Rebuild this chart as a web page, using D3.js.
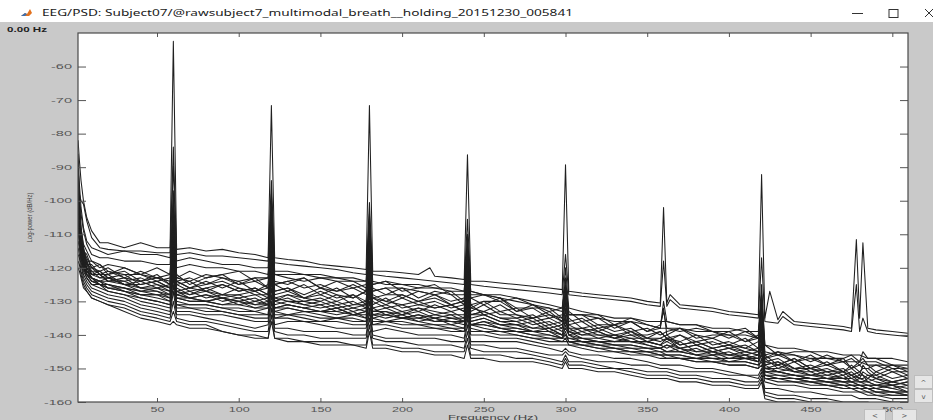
<!DOCTYPE html>
<html>
<head>
<meta charset="utf-8">
<script src="https://cdn.jsdelivr.net/npm/d3@7"></script>
<style>
body{margin:0;background:#c9c9c9;overflow:hidden}
svg{display:block}
</style>
</head>
<body>
<script>
(function(){

//frequency grid (Hz) shared by every channel
var freqs = [1.7,2.5,3.5,5,7,10,15,20,30,40,50,58,62,70,80,90,100,110,118,122,130,140,150,160,170,178,182,190,200,210,220,230,238,242,250,260,270,280,290,298,302,310,320,330,340,350,358,362,370,380,390,400,410,418,422,430,440,450,460,470,475,480,485,490,500,509.5];

//line noise peaks (Hz)
var peakFreqs = [60,120,180,240,300,360,420,478,482];
//small bumps seen on the two outlier channels (Hz)
var bumpFreqs = [217,364,425,433];

//axis ticks
var xTicks = [50,100,150,200,250,300,350,400,450,500];
var yTicks = [-160,-150,-140,-130,-120,-110,-100,-90,-80,-70,-60];

//outlier channels (top two lines)
var psdA = [-82,-88,-94,-100,-105,-109,-112.5,-112.5,-114,-112.5,-114,-114,-114.5,-114,-115,-114.5,-115.5,-116,-117,-117,-117.5,-118,-119,-119.5,-120,-120.5,-121,-121,-121.5,-122,-122.5,-123,-123.5,-124,-124,-124.5,-125,-125.5,-126,-126.5,-127,-127.5,-128,-128.5,-129,-130,-130.5,-130.5,-131,-131.5,-132,-133,-133.5,-134,-135,-135.5,-136,-136.5,-137,-137.5,-138,-135,-138,-138.5,-139,-139.5];
var peakA = [-52.5,-71.6,-71.6,-86.3,-89.3,-102,-92.2,-111.6,-112.5];
var bumpA = [-120,-128,-127,-133];
var psdB = [-90,-98,-100,-101,-106,-111,-114,-114.5,-115,-115,-115.5,-115.5,-116,-115.5,-116.5,-116.5,-117,-117.5,-118,-118.5,-119,-119.5,-120,-120.5,-121.5,-122,-122,-122.5,-123,-123.5,-124,-124.5,-125,-125,-125.5,-126,-126.5,-127,-127.5,-128,-128,-128.5,-129,-129.5,-130,-131,-131.5,-131.5,-132,-132.5,-133,-134,-134.5,-135,-136,-136.5,-137,-137.5,-138,-138.5,-139,-139,-139,-139.5,-140,-140.5];
var peakB = [-84,-94,-100.5,-105.5,-116,-118,-117,-125,-135];
var bumpB = [null,-129.5,null,-134.5];

//channels just above the bundle at low freq
var psdC1 = [-86,-95,-102,-108,-112,-114,-115,-116,-115,-116,-116,-117,-118,-117,-118,-119,-119,-120,-120,-121,-121,-122,-122,-123,-123,-124,-124,-125,-125,-125,-126,-126,-127,-127,-128,-128,-129,-130,-131,-132,-132,-133,-134,-135,-135,-136,-136,-136,-137,-137,-138,-138,-139,-139,-143,-144,-144,-145,-145,-146,-146,-146,-147,-147,-147,-148];
var peakC1 = [-89.6,-98,-104,-110,-120,null,-125,null,null];
var psdC2 = [-92,-99,-104,-109,-113,-116,-117,-117,-118,-118,-119,-119,-120,-119,-120,-120,-121,-121,-122,-122,-122,-122,-123,-123,-124,-124,-125,-124,-125,-126,-126,-127,-127,-128,-128,-129,-130,-131,-132,-133,-134,-134,-135,-136,-136,-137,-138,-138,-138,-139,-139,-140,-140,-141,-145,-146,-146,-147,-147,-148,-148,-148,-149,-149,-149,-150];
var peakC2 = [-97,-100,-106,-112,-123,null,-128,null,null];

//main bundle
var psd1 = [-88,-100,-108,-113,-115,-118,-120,-119,-120,-122,-120,-122,-123,-121,-123,-122,-121,-124,-123,-122,-123,-124,-123,-124,-124,-126,-125,-124,-127,-126,-125,-128,-128,-127,-128,-130,-129,-131,-133,-132,-134,-134,-134,-137,-135,-137,-138,-136,-137,-137,-139,-139,-138,-141,-143,-146,-145,-145,-147,-147,-146,-148,-147,-147,-149,-149];
var psd2 = [-95,-101,-108,-114,-118,-118,-119,-122,-120,-122,-123,-122,-123,-124,-122,-123,-124,-123,-123,-125,-124,-123,-126,-124,-126,-125,-127,-126,-126,-127,-128,-127,-130,-129,-128,-129,-132,-132,-132,-135,-134,-134,-137,-137,-136,-139,-137,-138,-139,-138,-139,-141,-139,-141,-146,-145,-146,-148,-146,-148,-147,-149,-148,-148,-150,-150];
var psd3 = [-94,-104,-110,-115,-117,-120,-119,-121,-122,-122,-124,-123,-124,-123,-125,-123,-125,-124,-126,-125,-124,-126,-125,-127,-126,-128,-127,-126,-129,-127,-128,-130,-129,-131,-130,-130,-133,-132,-135,-134,-136,-135,-138,-137,-139,-138,-140,-139,-138,-141,-140,-140,-142,-141,-147,-146,-148,-147,-149,-148,-150,-149,-150,-149,-151,-151];
var psd4 = [-97,-104,-111,-115,-119,-120,-122,-122,-121,-124,-123,-125,-124,-126,-124,-126,-124,-127,-126,-125,-127,-125,-128,-126,-129,-127,-129,-128,-128,-130,-128,-131,-130,-132,-130,-133,-132,-135,-134,-136,-135,-138,-137,-139,-138,-141,-139,-141,-140,-142,-141,-143,-141,-144,-146,-149,-147,-150,-148,-151,-149,-151,-150,-152,-150,-152];
var psd5 = [-99,-106,-111,-117,-118,-121,-121,-123,-124,-123,-125,-126,-125,-124,-127,-125,-127,-126,-128,-127,-126,-129,-127,-129,-128,-130,-129,-131,-129,-131,-130,-132,-131,-133,-131,-134,-134,-136,-135,-137,-137,-139,-138,-140,-139,-141,-141,-142,-140,-143,-142,-144,-143,-145,-148,-147,-150,-149,-151,-150,-152,-151,-153,-151,-153,-152];
var psd6 = [-100,-106,-112,-116,-120,-121,-123,-123,-125,-125,-124,-126,-127,-126,-127,-128,-126,-128,-128,-129,-128,-129,-130,-128,-131,-130,-131,-129,-132,-131,-132,-131,-133,-134,-133,-135,-136,-135,-138,-137,-139,-138,-140,-140,-141,-141,-142,-141,-143,-142,-144,-143,-144,-145,-149,-148,-150,-150,-151,-151,-152,-153,-152,-153,-154,-153];
var psd7 = [-101,-108,-113,-117,-120,-122,-122,-124,-124,-126,-126,-127,-128,-127,-129,-128,-129,-128,-130,-129,-130,-130,-131,-130,-132,-131,-132,-131,-133,-132,-133,-134,-134,-135,-134,-136,-136,-138,-137,-139,-139,-140,-140,-141,-142,-142,-143,-142,-144,-143,-145,-144,-145,-146,-149,-151,-150,-152,-151,-153,-152,-154,-153,-154,-155,-154];
var psd8 = [-102,-107,-114,-118,-120,-123,-124,-124,-125,-127,-126,-128,-128,-129,-128,-130,-129,-131,-130,-131,-130,-131,-132,-131,-133,-132,-133,-133,-134,-133,-135,-134,-136,-136,-135,-137,-137,-139,-138,-140,-140,-141,-142,-142,-142,-143,-144,-143,-144,-145,-145,-146,-146,-147,-150,-151,-152,-152,-153,-153,-154,-154,-155,-155,-156,-155];
var psd9 = [-103,-109,-114,-118,-121,-123,-124,-125,-126,-127,-128,-128,-129,-129,-130,-129,-130,-131,-131,-132,-131,-132,-133,-132,-134,-133,-134,-134,-135,-134,-135,-136,-136,-137,-136,-137,-138,-139,-139,-140,-141,-141,-142,-143,-143,-144,-144,-145,-145,-146,-146,-146,-147,-147,-151,-151,-152,-153,-153,-154,-154,-155,-155,-155,-156,-157];
var psd10 = [-104,-110,-115,-119,-121,-123,-125,-125,-127,-128,-128,-129,-129,-130,-130,-131,-131,-132,-132,-132,-132,-133,-133,-133,-134,-134,-135,-134,-135,-135,-136,-136,-137,-137,-137,-138,-139,-139,-140,-141,-141,-142,-143,-143,-144,-144,-145,-145,-145,-146,-147,-147,-147,-148,-151,-152,-152,-153,-154,-154,-155,-155,-156,-156,-157,-157];
var psd11 = [-107,-111,-116,-120,-122,-124,-125,-126,-127,-129,-130,-131,-131,-131,-131,-132,-133,-133,-134,-134,-134,-134,-135,-135,-135,-136,-136,-136,-136,-137,-137,-138,-138,-138,-139,-139,-140,-141,-141,-142,-142,-143,-144,-144,-145,-145,-146,-146,-146,-147,-147,-148,-148,-149,-152,-153,-153,-154,-154,-155,-155,-156,-156,-157,-157,-158];
var psd12 = [-109,-113,-117,-121,-123,-125,-126,-127,-128,-130,-131,-132,-132,-132,-133,-133,-134,-135,-135,-135,-135,-136,-136,-136,-137,-137,-137,-137,-138,-138,-138,-139,-139,-140,-140,-141,-141,-142,-143,-143,-143,-144,-145,-145,-146,-146,-147,-147,-147,-148,-148,-149,-149,-150,-153,-154,-154,-155,-155,-156,-156,-156,-157,-158,-158,-158];
var psd13 = [-112,-114,-118,-122,-124,-126,-127,-128,-129,-131,-132,-133,-133,-133,-134,-134,-135,-136,-136,-137,-136,-136,-137,-138,-138,-138,-139,-138,-139,-140,-140,-140,-141,-142,-142,-142,-142,-143,-144,-145,-145,-146,-146,-147,-147,-148,-149,-149,-149,-150,-150,-151,-152,-152,-154,-155,-155,-156,-156,-157,-157,-157,-158,-158,-159,-159];
var psd14 = [-114,-116,-119,-123,-125,-127,-128,-129,-130,-132,-133,-134,-134,-134,-135,-136,-137,-138,-137,-138,-138,-139,-139,-139,-140,-140,-140,-141,-141,-141,-141,-142,-142,-143,-143,-144,-144,-145,-146,-146,-146,-147,-148,-148,-149,-149,-150,-150,-151,-151,-151,-152,-152,-153,-156,-156,-157,-157,-158,-158,-158,-159,-159,-159,-160,-160];
var psd15 = [-116,-117,-121,-124,-126,-128,-129,-130,-131,-133,-134,-135,-135,-136,-136,-137,-138,-139,-139,-139,-140,-140,-141,-141,-141,-141,-141,-142,-142,-143,-143,-143,-144,-144,-145,-145,-145,-146,-147,-148,-148,-148,-149,-150,-150,-151,-151,-151,-152,-152,-153,-153,-154,-154,-157,-158,-158,-159,-159,-160,-160,-160,-160,-161,-161,-161];
var psd16 = [-118,-119,-122,-125,-127,-129,-130,-131,-132,-134,-135,-136,-136,-137,-137,-139,-140,-140,-141,-141,-141,-142,-142,-142,-143,-143,-143,-143,-144,-144,-145,-145,-145,-146,-146,-146,-147,-147,-148,-149,-149,-149,-150,-150,-151,-152,-152,-152,-153,-153,-154,-154,-155,-155,-158,-159,-159,-160,-160,-161,-161,-161,-161,-161,-162,-162];
var psd17 = [-120,-121,-123,-126,-127,-129,-130,-131,-133,-135,-136,-137,-137,-138,-138,-139,-140,-141,-141,-141,-142,-142,-143,-143,-143,-144,-144,-144,-145,-145,-146,-146,-147,-147,-147,-148,-148,-148,-149,-150,-150,-150,-151,-151,-152,-153,-153,-153,-154,-154,-155,-155,-156,-156,-159,-160,-160,-161,-161,-162,-162,-162,-162,-162,-163,-163];
var psd18 = [-91,-103,-109,-115,-116,-120,-121,-120,-123,-121,-123,-124,-122,-125,-123,-122,-125,-123,-126,-124,-125,-123,-126,-127,-125,-127,-126,-128,-126,-129,-127,-128,-131,-129,-131,-129,-133,-131,-134,-135,-133,-136,-135,-138,-136,-139,-138,-140,-138,-140,-141,-139,-142,-140,-147,-145,-148,-146,-149,-147,-150,-148,-149,-151,-149,-151];
var psd19 = [-96,-102,-111,-114,-119,-119,-122,-121,-123,-124,-122,-125,-124,-126,-125,-124,-126,-127,-125,-127,-126,-128,-126,-128,-129,-127,-128,-130,-128,-130,-129,-131,-130,-132,-133,-131,-134,-135,-133,-136,-137,-136,-139,-137,-140,-140,-139,-141,-142,-140,-143,-142,-144,-142,-148,-149,-147,-150,-149,-151,-150,-152,-151,-153,-151,-153];
var psd20 = [-98,-105,-110,-116,-118,-122,-121,-123,-122,-125,-124,-126,-125,-127,-126,-125,-127,-126,-128,-128,-127,-129,-128,-130,-128,-131,-129,-130,-131,-130,-132,-131,-133,-131,-134,-133,-135,-134,-137,-136,-138,-138,-139,-141,-139,-142,-141,-140,-143,-142,-144,-143,-145,-144,-147,-150,-148,-151,-150,-152,-151,-153,-152,-152,-154,-153];
var psd21 = [-100,-107,-112,-116,-119,-122,-123,-122,-125,-124,-126,-125,-127,-128,-126,-128,-128,-127,-129,-130,-128,-130,-129,-131,-130,-132,-130,-132,-131,-133,-131,-133,-132,-134,-133,-135,-135,-137,-136,-138,-138,-140,-139,-141,-140,-142,-143,-141,-144,-143,-145,-144,-146,-145,-149,-148,-151,-150,-152,-151,-153,-152,-154,-153,-155,-154];
var psd22 = [-101,-107,-113,-117,-121,-122,-122,-124,-123,-126,-125,-127,-126,-128,-127,-129,-128,-130,-129,-130,-129,-131,-130,-132,-131,-131,-133,-132,-134,-132,-134,-133,-135,-134,-134,-136,-137,-136,-139,-138,-140,-139,-141,-140,-142,-142,-143,-144,-142,-145,-144,-146,-145,-146,-150,-149,-151,-151,-153,-152,-154,-153,-154,-155,-154,-155];
var psd23 = [-102,-108,-113,-118,-121,-123,-124,-123,-125,-126,-127,-128,-127,-129,-128,-129,-130,-129,-131,-130,-131,-132,-131,-133,-132,-133,-132,-134,-133,-135,-134,-135,-135,-136,-135,-137,-137,-138,-138,-140,-139,-141,-141,-142,-141,-143,-144,-143,-145,-144,-146,-145,-147,-146,-150,-150,-151,-152,-152,-153,-153,-154,-154,-155,-155,-156];
var psd24 = [-103,-108,-114,-118,-122,-123,-125,-125,-126,-127,-127,-129,-128,-129,-130,-129,-131,-130,-131,-132,-131,-132,-133,-132,-134,-133,-134,-133,-135,-134,-136,-135,-136,-137,-136,-138,-138,-139,-139,-141,-140,-142,-142,-143,-143,-144,-144,-145,-144,-146,-145,-147,-146,-148,-151,-151,-152,-153,-153,-154,-154,-155,-155,-156,-155,-157];
var psd25 = [-105,-110,-115,-119,-122,-124,-124,-126,-126,-128,-128,-130,-129,-130,-130,-131,-130,-132,-131,-133,-132,-133,-133,-134,-133,-135,-134,-135,-134,-136,-135,-137,-136,-137,-137,-138,-139,-140,-140,-141,-142,-142,-143,-144,-144,-145,-145,-146,-146,-147,-146,-148,-147,-148,-152,-152,-153,-153,-154,-155,-155,-155,-156,-156,-157,-157];
var psd26 = [-106,-111,-115,-120,-122,-124,-125,-126,-127,-128,-129,-130,-130,-131,-131,-132,-132,-133,-132,-133,-134,-133,-134,-135,-134,-135,-135,-136,-135,-136,-137,-137,-138,-137,-138,-139,-139,-140,-141,-141,-142,-143,-143,-144,-145,-145,-146,-146,-147,-147,-148,-148,-148,-149,-152,-153,-153,-154,-155,-155,-156,-156,-156,-157,-157,-158];
var psd27 = [-108,-112,-117,-120,-123,-125,-125,-127,-128,-129,-130,-131,-131,-132,-132,-133,-134,-134,-134,-135,-134,-135,-136,-135,-136,-136,-137,-136,-137,-137,-138,-138,-139,-139,-139,-140,-140,-141,-142,-142,-143,-143,-144,-145,-145,-146,-146,-147,-147,-148,-148,-149,-149,-150,-153,-153,-154,-154,-155,-156,-156,-157,-157,-157,-158,-158];

//peak tops of bundle channels, one per line noise freq (null = none)
var peaks1 = [-100,-103,-108,-114,-125,-130,-128,null,-145];
var peaks2 = [-102,-106,-110,-116,-127,-133,-130,null,-148];
var peaks3 = [-105,-108,-112,-118,-129,null,-132,null,-150];
var peaks4 = [-107,-110,-114,-120,-131,null,-134,null,-150];
var peaks5 = [-109,-112,-116,-122,-133,null,-136,null,-152];
var peaks6 = [-111,-114,-118,-124,-135,null,-138,null,-153];
var peaks7 = [-113,-116,-120,-126,-136,null,-140,null,-154];
var peaks8 = [-115,-118,-122,-128,-138,null,-142,null,null];
var peaks9 = [-117,-120,-124,-130,-140,null,-144,null,null];
var peaks10 = [-119,-122,-126,-132,-141,null,-146,null,null];
var peaks11 = [-121,-124,-128,-133,-142,null,-148,null,null];
var peaks12 = [-123,-126,-130,-134,-143,null,-149,null,null];
var peaks13 = [-125,-128,-132,-135,-144,null,-150,null,null];
var peaks14 = [-127,-130,-133,-137,-145,null,-151,null,null];
var peaks15 = [-130,-132,-135,-139,-146,null,-152,null,null];
var peaks16 = [-133,-134,-137,-141,-147,null,-153,null,null];
var peaks17 = [-136,-136,-139,-143,-148,null,-154,null,null];
var peaks18 = [-103,-104,-109,-115,-126,-132,-129,null,-147];
var peaks19 = [-106,-107,-111,-117,-128,null,-131,null,-149];
var peaks20 = [-108,-109,-113,-119,-130,null,-133,null,-151];
var peaks21 = [-110,-111,-115,-121,-132,null,-135,null,-152];
var peaks22 = [-112,-113,-117,-123,-134,null,-137,null,null];
var peaks23 = [-114,-115,-119,-125,-135,null,-139,null,null];
var peaks24 = [-116,-117,-121,-127,-137,null,-141,null,null];
var peaks25 = [-118,-119,-123,-129,-139,null,-143,null,null];
var peaks26 = [-120,-121,-125,-131,-140,null,-145,null,null];
var peaks27 = [-122,-123,-127,-132,-141,null,-147,null,null];

var channels = [
    [psd17, peaks17], [psd16, peaks16], [psd15, peaks15], [psd14, peaks14],
    [psd13, peaks13], [psd12, peaks12], [psd27, peaks27], [psd11, peaks11],
    [psd26, peaks26], [psd10, peaks10], [psd25, peaks25], [psd9, peaks9],
    [psd24, peaks24], [psd8, peaks8], [psd23, peaks23], [psd7, peaks7],
    [psd22, peaks22], [psd6, peaks6], [psd21, peaks21], [psd5, peaks5],
    [psd20, peaks20], [psd4, peaks4], [psd19, peaks19], [psd3, peaks3],
    [psd18, peaks18], [psd2, peaks2], [psd1, peaks1],
    [psdC2, peakC2], [psdC1, peakC1],
    [psdB, peakB, bumpB], [psdA, peakA, bumpA]
];

var W = 933, H = 420;
var plot = {left: 78, right: 908, top: 33, bottom: 402};

var svg = d3.select("body").append("svg")
    .attr("width", W)
    .attr("height", H);

//title bar
svg.append("rect").attr("x", 0).attr("y", 0).attr("width", W).attr("height", 22).attr("fill", "#ffffff");
var icon = svg.append("g").attr("transform", "translate(21,9)");
icon.append("path").attr("d", "M0,7 L4,4 L6,5 L9,0 L11,4 L8,7 Z").attr("fill", "#e2711d");
icon.append("path").attr("d", "M0,7 L4,4 L6,5 L4,7 Z").attr("fill", "#3a6fb0");
svg.append("text")
    .attr("x", 42).attr("y", 16)
    .attr("font-family", "Noto Sans, DejaVu Sans, sans-serif")
    .attr("font-size", 9.5)
    .attr("fill", "#1a1a1a")
    .attr("textLength", 531)
    .attr("lengthAdjust", "spacingAndGlyphs")
    .text("EEG/PSD: Subject07/@rawsubject7_multimodal_breath__holding_20151230_005841");
//window buttons
svg.append("line").attr("x1", 852).attr("x2", 863).attr("y1", 13.5).attr("y2", 13.5).attr("stroke", "#333").attr("stroke-width", 1);
svg.append("rect").attr("x", 889).attr("y", 9.5).attr("width", 9).attr("height", 8).attr("fill", "none").attr("stroke", "#333").attr("stroke-width", 1);
svg.append("path").attr("d", "M925,9 L933,17 M933,9 L925,17").attr("stroke", "#333").attr("stroke-width", 1);

//current frequency label
svg.append("text")
    .attr("x", 7).attr("y", 32)
    .attr("font-family", "Liberation Sans, Arial, sans-serif")
    .attr("font-size", 7.5)
    .attr("font-weight", "bold")
    .attr("fill", "#222")
    .attr("textLength", 40)
    .attr("lengthAdjust", "spacingAndGlyphs")
    .text("0.00 Hz");

//scales
var x = d3.scaleLinear()
    .domain([1.65, 509.6])
    .range([plot.left, plot.right]);
var y = d3.scaleLinear()
    .domain([-160, -50])
    .range([plot.bottom, plot.top]);

//plot background
svg.append("rect")
    .attr("x", plot.left).attr("y", plot.top)
    .attr("width", plot.right - plot.left)
    .attr("height", plot.bottom - plot.top)
    .attr("fill", "#ffffff");

svg.append("clipPath").attr("id", "clip")
    .append("rect")
    .attr("x", plot.left).attr("y", plot.top)
    .attr("width", plot.right - plot.left)
    .attr("height", plot.bottom - plot.top);

//build points for one channel, inserting its peaks and bumps between grid freqs
function channelPoints(psd, peaks, bumps){
    var extra = [];
    peakFreqs.forEach(function(f, k){ if (peaks[k] != null) extra.push([f, peaks[k]]); });
    if (bumps){
        bumpFreqs.forEach(function(f, k){ if (bumps[k] != null) extra.push([f, bumps[k]]); });
    }
    var pts = [];
    for (var i = 0; i < freqs.length; i++){
        pts.push([freqs[i], psd[i]]);
        if (i < freqs.length - 1){
            extra.forEach(function(e){
                if (e[0] > freqs[i] && e[0] < freqs[i + 1]) pts.push(e);
            });
        }
    }
    return pts;
}

var line = d3.line()
    .x(function(d){ return x(d[0]); })
    .y(function(d){ return y(d[1]); });

svg.append("g")
    .attr("clip-path", "url(#clip)")
    .selectAll(".trace")
    .data(channels)
    .enter()
    .append("path")
    .attr("class", "trace")
    .attr("d", function(d){ return line(channelPoints(d[0], d[1], d[2])); })
    .attr("fill", "none")
    .attr("stroke", "#202020")
    .attr("stroke-width", 1.05)
    .attr("stroke-linejoin", "round");

//axes, ticks pointing inward
function styleAxis(g){
    g.select(".domain").remove();
    g.selectAll(".tick line").attr("stroke", "#555");
    g.selectAll(".tick text")
        .attr("fill", "#555")
        .attr("font-family", "Liberation Sans, Arial, sans-serif")
        .attr("font-size", 7)
        .attr("lengthAdjust", "spacingAndGlyphs")
        .attr("textLength", function(){ return this.textContent.length * 7; });
}

var fmt = function(d){ return String(d); };

svg.append("g")
    .attr("transform", "translate(" + plot.left + ",0)")
    .call(d3.axisLeft(y).tickValues(yTicks).tickSizeInner(-8).tickSizeOuter(0).tickPadding(6).tickFormat(fmt))
    .call(styleAxis);
svg.append("g")
    .attr("transform", "translate(" + plot.right + ",0)")
    .call(d3.axisRight(y).tickValues(yTicks).tickSizeInner(-8).tickSizeOuter(0).tickFormat(""))
    .call(styleAxis);
svg.append("g")
    .attr("transform", "translate(0," + plot.bottom + ")")
    .call(d3.axisBottom(x).tickValues(xTicks).tickSizeInner(-4).tickSizeOuter(0).tickPadding(5))
    .call(styleAxis);
svg.append("g")
    .attr("transform", "translate(0," + plot.top + ")")
    .call(d3.axisTop(x).tickValues(xTicks).tickSizeInner(-4).tickSizeOuter(0).tickFormat(""))
    .call(styleAxis);

//box
svg.append("rect")
    .attr("x", plot.left).attr("y", plot.top)
    .attr("width", plot.right - plot.left)
    .attr("height", plot.bottom - plot.top)
    .attr("fill", "none")
    .attr("stroke", "#4a4a4a")
    .attr("stroke-width", 1.2);

//axis labels
svg.append("text")
    .attr("x", (plot.left + plot.right) / 2).attr("y", 419.5)
    .attr("text-anchor", "middle")
    .attr("font-family", "Liberation Sans, Arial, sans-serif")
    .attr("font-size", 7.5)
    .attr("fill", "#444")
    .attr("textLength", 90)
    .attr("lengthAdjust", "spacingAndGlyphs")
    .text("Frequency (Hz)");
svg.append("text")
    .attr("transform", "translate(32," + (plot.top + plot.bottom) / 2 + ") rotate(-90)")
    .attr("text-anchor", "middle")
    .attr("font-family", "Liberation Sans, Arial, sans-serif")
    .attr("font-size", 8)
    .attr("fill", "#444")
    .attr("textLength", 50)
    .attr("lengthAdjust", "spacingAndGlyphs")
    .text("Log-power (dB/Hz)");

//scroll buttons
function button(bx, by, bw, bh, label){
    svg.append("rect").attr("x", bx).attr("y", by).attr("width", bw).attr("height", bh)
        .attr("fill", "#e6e6e6").attr("stroke", "#bdbdbd").attr("stroke-width", 1);
    svg.append("text").attr("x", bx + bw / 2).attr("y", by + bh / 2 + 2.5)
        .attr("text-anchor", "middle")
        .attr("font-family", "DejaVu Sans, sans-serif")
        .attr("font-size", 7)
        .attr("fill", "#555")
        .text(label);
}
button(914.5, 375.5, 18, 13, "^");
button(914.5, 389.5, 18, 13, "v");
button(864.5, 409.5, 21, 12, "<");
button(892.5, 409.5, 24, 12, ">");

})();
</script>
</body>
</html>
